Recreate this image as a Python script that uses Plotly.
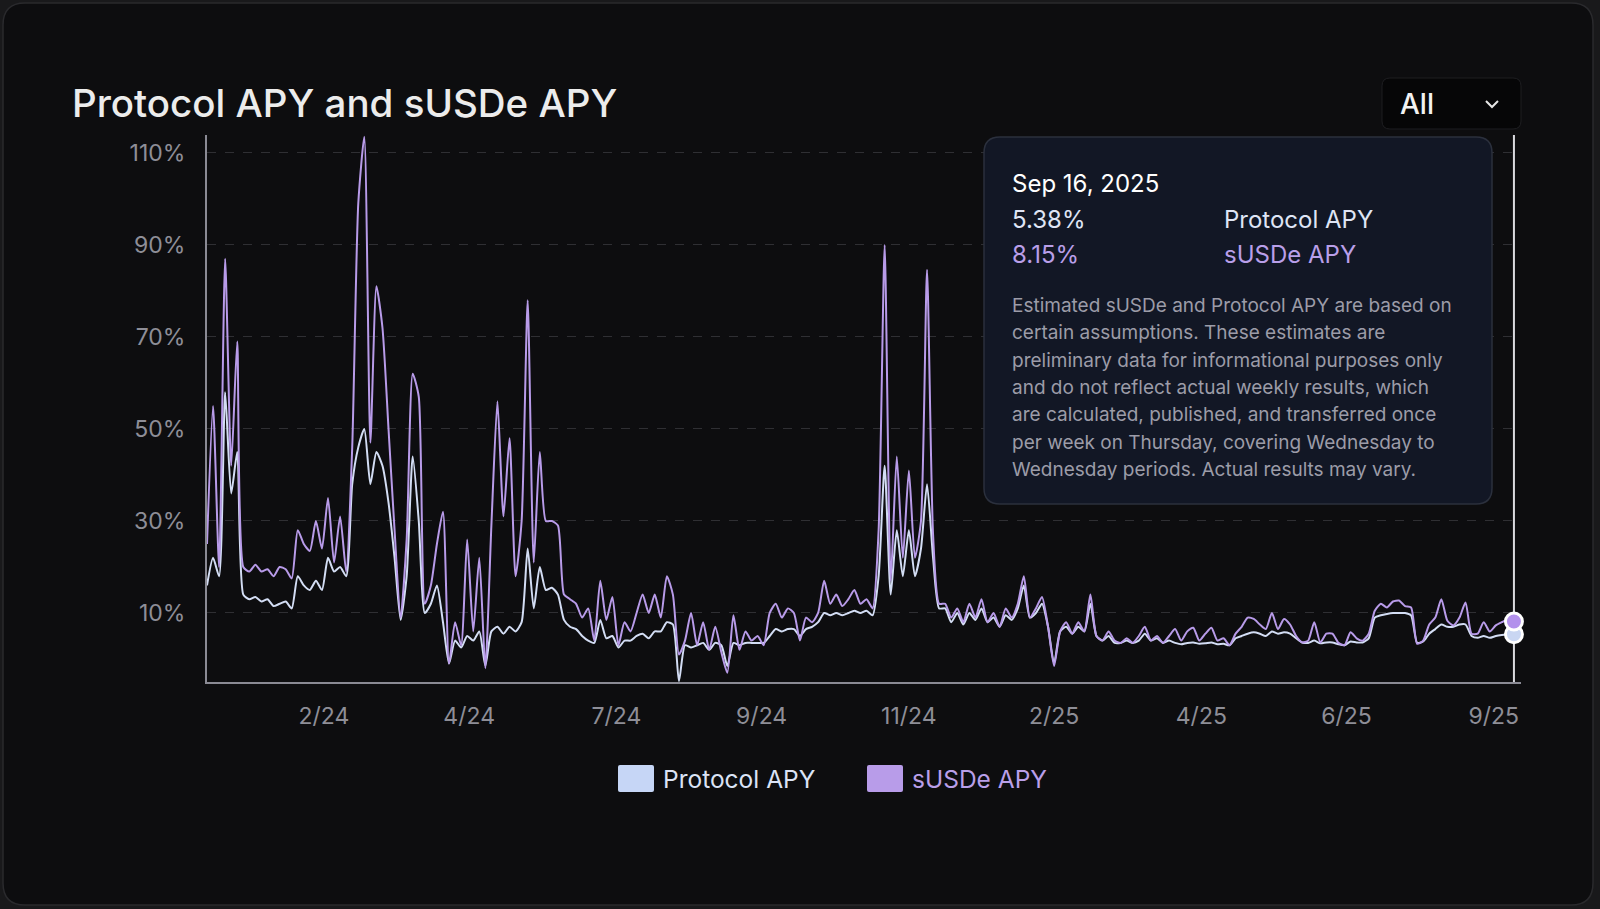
import pandas as pd
import plotly.graph_objects as go

# ---------------- data (3-day steps) ----------------
start_date = "2023-12-08"
n_points = 217
step = "3D"

susde_apy = [
    25, 55, 20, 87, 42, 69, 20, 19, 20.5, 19,
    19.5, 18, 20, 19.5, 17.5, 28, 25, 23.5, 30, 24,
    35, 21, 31, 19, 46, 99, 113.5, 47, 81, 72,
    50, 28, 9, 26, 62, 57, 12, 16, 25, 32,
    -1, 8, 3, 26, 6, 22, -2, 29, 56, 31,
    48, 18, 30, 78, 21, 45, 30, 30, 29, 14,
    13, 12, 9, 11, 4, 17, 8.5, 13.5, 3, 8,
    6, 10, 14, 10, 14, 9, 18, 14, 1, 4,
    10, 3, 8, 2, 7, 1.5, -3, 9.5, 2, 6,
    4, 5, 3, 10, 12, 9, 11, 10, 4, 9,
    8, 10, 17, 12, 14, 11.5, 13, 15, 12, 13,
    11, 28, 90, 17, 44, 22, 41, 22, 30, 84.6,
    27, 12, 12, 9, 11, 8, 12, 9, 13, 8,
    10, 7, 11, 9, 12, 18, 9, 11, 13.5, 7,
    -1.5, 6, 8, 5.5, 8, 6, 14, 5, 4, 6,
    4, 3.5, 4.5, 3.5, 5, 7, 4, 5, 3.5, 5,
    6.5, 4, 6, 6.8, 4, 5.5, 6.8, 4, 4.5, 3,
    5.5, 7, 9, 8.7, 7.5, 6.5, 10, 6.5, 8.7, 7.5,
    5, 3.6, 4, 8, 3.6, 5.5, 5.5, 3.5, 3, 5.8,
    4.5, 4, 5.5, 10.5, 12, 11.2, 12.5, 12.7, 11.5, 11.2,
    3.3, 4, 7.5, 9, 13, 8.3, 7.3, 9, 12.3, 5.5,
    5.5, 8, 6, 7.3, 8, 8.6, 8.15,
]

protocol_apy = [
    16, 22, 18, 58, 36, 45, 14, 13, 13.5, 12.5,
    13, 11.5, 12, 12.5, 11, 18, 16, 15, 17, 15,
    22, 19, 20, 18, 38, 46, 50, 38, 45, 42,
    34, 22, 8.5, 18, 44, 30, 10, 12, 16, 8,
    -1, 4, 2.5, 5, 4, 6, -1.5, 6, 7, 5.5,
    7, 6, 8, 24, 11, 20, 15, 15.5, 14, 8.5,
    7, 6.5, 5, 4, 3.5, 8.5, 4.5, 5, 2.5, 4,
    4, 5, 5.5, 4.5, 6, 6, 8, 7.5, -4.8, 3,
    2.5, 3, 3.5, 2, 3.5, 3, -1.5, 3.5, 3, 3.5,
    3.5, 3.5, 3.5, 5, 6.5, 6, 6.5, 6.5, 5, 6.5,
    7, 8, 10, 9.5, 10, 9.5, 10, 10.5, 10, 10.5,
    9.5, 18, 42, 14, 28, 18, 28, 18, 24, 38,
    22, 11, 11, 8, 10, 7.5, 10, 8.5, 11, 8,
    9, 7, 9.5, 8.5, 11, 16, 9, 10, 12, 7,
    -1, 6, 7, 5.5, 7, 6, 12, 5, 4, 5,
    3.5, 3.5, 4, 3.5, 4, 5.5, 4, 4.5, 3.5, 4,
    3.5, 3.2, 3.5, 3.6, 3.3, 3.4, 3.6, 3.2, 3.3, 3,
    4.5, 5, 5.5, 5.8, 5.5, 5, 6, 5.5, 5.8, 5.5,
    4.5, 3.6, 3.5, 4, 3.4, 3.6, 3.6, 3.2, 3, 3.8,
    3.6, 3.6, 4.5, 9, 9.5, 9.8, 10, 10, 10, 9.5,
    3.5, 3.8, 5.5, 6.5, 7.5, 7, 7, 7.5, 7.5, 5,
    4.6, 5, 4.6, 5, 5.2, 5.3, 5.38,
]

tick_dates = ["2024-02-04", "2024-04-16", "2024-06-28", "2024-09-08", "2024-11-20",
              "2025-01-31", "2025-04-14", "2025-06-25", "2025-09-06"]
tick_labels = ["2/24", "4/24", "7/24", "9/24", "11/24", "2/25", "4/25", "6/25", "9/25"]

y_ticks = [10, 30, 50, 70, 90, 110]
y_tick_labels = ["10%", "30%", "50%", "70%", "90%", "110%"]

hover_date_label = "Sep 16, 2025"
series_names = ["Protocol APY", "sUSDe APY"]

disclaimer_lines = [
    "Estimated sUSDe and Protocol APY are based on",
    "certain assumptions. These estimates are",
    "preliminary data for informational purposes only",
    "and do not reflect actual weekly results, which",
    "are calculated, published, and transferred once",
    "per week on Thursday, covering Wednesday to",
    "Wednesday periods. Actual results may vary.",
]

dates = pd.date_range(start_date, periods=n_points, freq=step)
n = min(len(dates), len(susde_apy), len(protocol_apy))
dates = dates[:n]
susde_apy = susde_apy[:n]
protocol_apy = protocol_apy[:n]

# ---------------- style ----------------
W, H = 1600, 909
L, R, T, B = 207, 1521, 135, 682
FONT = "Inter"
C_PROT = "#d3ddf4"
C_SUSDE = "#b89be9"
C_TICK = "#8e8e97"
CARD = "#0d0d0f"


def xp(px):
    return (px - L) / (R - L)


def yp(py):
    return (B - py) / (B - T)


def rrect(x0, y0, x1, y1, r):
    pts = [
        ("M", [(x0 + r, y0)]), ("L", [(x1 - r, y0)]), ("Q", [(x1, y0), (x1, y0 + r)]),
        ("L", [(x1, y1 - r)]), ("Q", [(x1, y1), (x1 - r, y1)]), ("L", [(x0 + r, y1)]),
        ("Q", [(x0, y1), (x0, y1 - r)]), ("L", [(x0, y0 + r)]), ("Q", [(x0, y0), (x0 + r, y0)]),
    ]
    s = ""
    for cmd, ps in pts:
        s += cmd + " " + " ".join(f"{xp(a):.5f},{yp(b):.5f}" for a, b in ps) + " "
    return s + "Z"


fig = go.Figure()

fig.add_trace(go.Scatter(
    x=dates, y=protocol_apy, mode="lines", name=series_names[0],
    line=dict(color=C_PROT, width=2, shape="spline", smoothing=0.6),
    showlegend=False, hoverinfo="skip"))
fig.add_trace(go.Scatter(
    x=dates, y=susde_apy, mode="lines", name=series_names[1],
    line=dict(color=C_SUSDE, width=2, shape="spline", smoothing=0.6),
    showlegend=False, hoverinfo="skip"))

# hovered end points
fig.add_trace(go.Scatter(
    x=[dates[-1]], y=[protocol_apy[-1]], mode="markers", showlegend=False, hoverinfo="skip",
    marker=dict(size=17, color="#c9d6f2", line=dict(color="#ffffff", width=3)), cliponaxis=False))
fig.add_trace(go.Scatter(
    x=[dates[-1]], y=[susde_apy[-1]], mode="markers", showlegend=False, hoverinfo="skip",
    marker=dict(size=17, color="#b391ec", line=dict(color="#ffffff", width=3)), cliponaxis=False))

shapes = []
# card
shapes.append(dict(type="path", xref="paper", yref="paper", layer="below",
                   path=rrect(3, 3, 1593, 905, 22), fillcolor=CARD,
                   line=dict(color="#2a2a2d", width=1.5)))
# hover line
shapes.append(dict(type="line", xref="x", yref="paper", x0=dates[-1], x1=dates[-1],
                   y0=0, y1=1, layer="below", line=dict(color="#d9d9de", width=2)))
# tooltip box
shapes.append(dict(type="path", xref="paper", yref="paper", layer="above",
                   path=rrect(984, 137, 1492, 504, 16), fillcolor="#121725",
                   line=dict(color="#2b303d", width=1.5)))
# dropdown
shapes.append(dict(type="path", xref="paper", yref="paper", layer="above",
                   path=rrect(1382, 78, 1521, 129, 8), fillcolor="#060607",
                   line=dict(color="#1e1e21", width=1)))
shapes.append(dict(type="path", xref="paper", yref="paper", layer="above",
                   path=f"M {xp(1486):.5f},{yp(101):.5f} L {xp(1492):.5f},{yp(107):.5f} L {xp(1498):.5f},{yp(101):.5f}",
                   line=dict(color="#e6e6e6", width=2)))
# legend swatches
shapes.append(dict(type="path", xref="paper", yref="paper", layer="above",
                   path=rrect(618, 765, 654, 792, 2), fillcolor="#c6d6f6", line=dict(width=0)))
shapes.append(dict(type="path", xref="paper", yref="paper", layer="above",
                   path=rrect(867, 765, 903, 792, 2), fillcolor="#b89ce9", line=dict(width=0)))

ann = []


def text(x, yc, s, size, color, weight=400):
    ann.append(dict(x=xp(x), y=yp(yc), xref="paper", yref="paper", text=s, showarrow=False,
                    xanchor="left", yanchor="middle",
                    font=dict(family=FONT, size=size, color=color, weight=weight)))


text(70, 103, "Protocol APY and sUSDe APY", 38.5, "#ececec", 500)
text(1398, 104, "All", 28, "#f2f2f2", 500)

text(1010, 183, hover_date_label, 24, "#ffffff", 400)
text(1010, 219, f"{protocol_apy[-1]:.2f}%", 24, "#dfe5f5")
text(1222, 219, series_names[0], 24, "#dfe5f5")
text(1010, 254, f"{susde_apy[-1]:.2f}%", 24, "#b99fe9")
text(1222, 254, series_names[1], 24, "#b99fe9")
for k, line in enumerate(disclaimer_lines):
    text(1010, 305.5 + 27.3 * k, line, 19, "#9c9ca8")

text(661, 779, series_names[0], 24.5, "#dbe3f6")
text(910, 779, series_names[1], 24.5, "#b99fe9")

fig.update_layout(
    width=W, height=H, autosize=False,
    margin=dict(l=L, r=W - R, t=T, b=H - B, pad=0),
    paper_bgcolor="#19191b", plot_bgcolor="rgba(0,0,0,0)",
    showlegend=False, shapes=shapes, annotations=ann,
    font=dict(family=FONT, color=C_TICK),
    hovermode=False,
)
fig.update_xaxes(
    type="date", range=["2023-12-08", "2025-09-19 12:00"],
    tickvals=tick_dates, ticktext=tick_labels, ticks="",
    tickfont=dict(family=FONT, size=23, color=C_TICK), ticklabelstandoff=12,
    showgrid=False, zeroline=False, showline=True, linecolor="#8a8a94", linewidth=2,
)
fig.update_yaxes(
    range=[-5, 113.9], tickvals=y_ticks, ticktext=y_tick_labels, ticks="",
    tickfont=dict(family=FONT, size=23, color=C_TICK), ticklabelstandoff=15,
    showgrid=True, gridcolor="#2f2f33", griddash="dash", gridwidth=1,
    zeroline=False, showline=True, linecolor="#8a8a94", linewidth=2,
)

fig.write_html("out.html")
